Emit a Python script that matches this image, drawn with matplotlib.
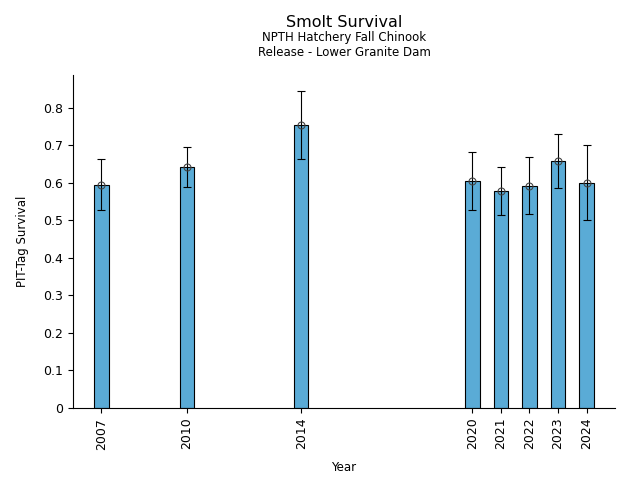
import numpy as np
import matplotlib.pyplot as plt
from matplotlib.ticker import FuncFormatter

# datos
years = [2007, 2010, 2014, 2020, 2021, 2022, 2023, 2024]
survival = [0.594, 0.642, 0.755, 0.605, 0.578, 0.591, 0.658, 0.599]
upper = [0.663, 0.695, 0.845, 0.682, 0.642, 0.669, 0.730, 0.700]
lower = [0.527, 0.589, 0.663, 0.527, 0.514, 0.516, 0.586, 0.500]

s = np.array(survival)
yerr = [s - np.array(lower), np.array(upper) - s]

fig = plt.figure(figsize=(6.4, 4.8), dpi=100)
ax = fig.add_axes([0.114, 0.15, 0.847, 0.694])

ax.bar(years, survival, width=0.5, color='#5aabd6', edgecolor='black', linewidth=0.8)
ax.errorbar(years, survival, yerr=yerr, fmt='o', mfc='none', mec='#444444',
            ms=5, mew=0.8, ecolor='black', elinewidth=0.8, capsize=3, capthick=0.8)

ax.set_xticks(years)
ax.set_xticklabels([str(y) for y in years], rotation=90, fontsize=9)
ax.set_xlim(2006, 2025)
ax.set_yticks(np.arange(0, 0.81, 0.1))
ax.yaxis.set_major_formatter(FuncFormatter(lambda v, p: '0' if v == 0 else f'{v:.1f}'))
ax.tick_params(axis='y', labelsize=9)
ax.spines['top'].set_visible(False)
ax.spines['right'].set_visible(False)

ax.set_xlabel('Year', fontsize=8.5, labelpad=8)
ax.set_ylabel('PIT-Tag Survival', fontsize=8.5, labelpad=10)

fig.text(0.5375, 0.953, 'Smolt Survival', ha='center', va='center', fontsize=11.5)
fig.text(0.5375, 0.921, 'NPTH Hatchery Fall Chinook', ha='center', va='center', fontsize=8.5)
fig.text(0.5375, 0.891, 'Release - Lower Granite Dam', ha='center', va='center', fontsize=8.5)

fig.savefig('out.png', dpi=100)
